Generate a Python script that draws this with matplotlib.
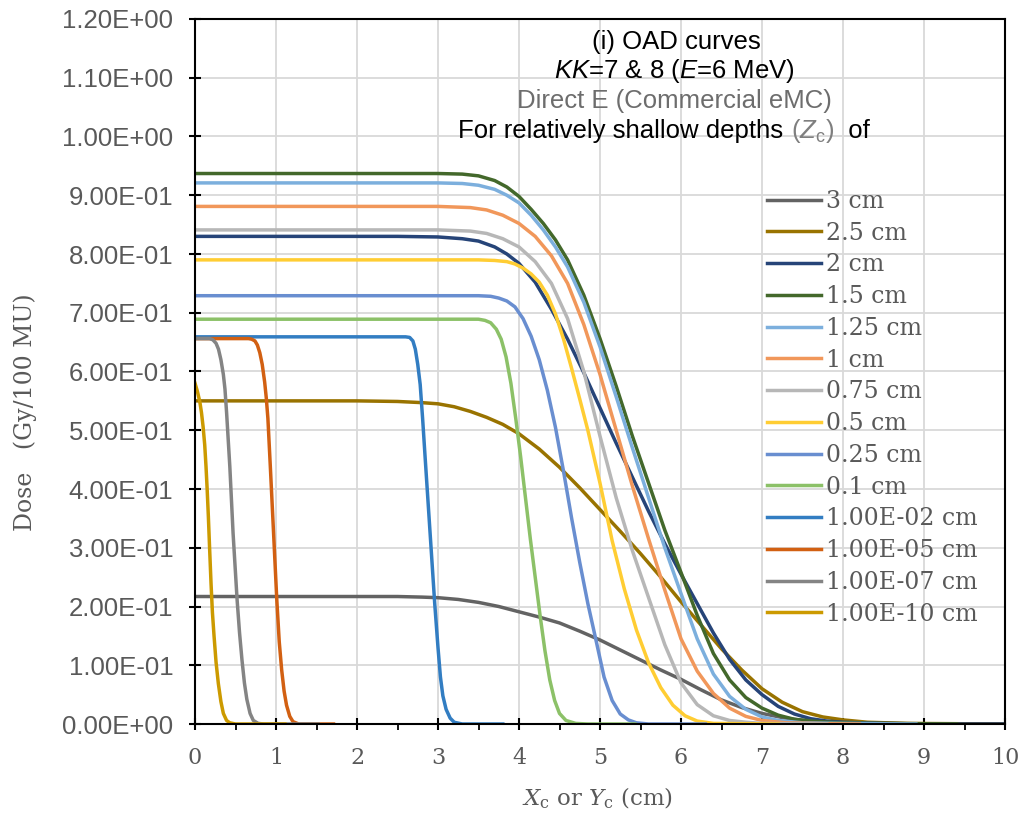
import matplotlib
matplotlib.use('Agg')
import matplotlib.pyplot as plt
import numpy as np

plt.rcParams['mathtext.fontset'] = 'custom'
plt.rcParams['mathtext.rm'] = 'Liberation Sans'
plt.rcParams['mathtext.it'] = 'Liberation Sans:italic'

# depth labels (legend order) and line colours
depth_labels = ['3 cm', '2.5 cm', '2 cm', '1.5 cm', '1.25 cm', '1 cm', '0.75 cm',
                '0.5 cm', '0.25 cm', '0.1 cm', '1.00E-02 cm', '1.00E-05 cm',
                '1.00E-07 cm', '1.00E-10 cm']
line_colors = ['#636363', '#997300', '#264478', '#43682B', '#7CAFDD', '#F1975A', '#B7B7B7',
               '#FFCD33', '#698ED0', '#8CC168', '#327DC2', '#D26012', '#848484', '#CC9A00']

# OAD curves (x in cm, dose in Gy/100 MU)
x_3cm = [0, 2.5, 2.8, 3.0, 3.25, 3.5, 3.75, 4.0, 4.25, 4.5, 4.75, 5.0, 5.25, 5.5, 5.75,
         6.0, 6.25, 6.5, 6.75, 7.0, 7.25, 7.5, 7.8, 8.3, 9.0, 10]
d_3cm = [0.217, 0.217, 0.216, 0.215, 0.212, 0.207, 0.2, 0.191, 0.182, 0.172, 0.158, 0.143,
         0.126, 0.109, 0.092, 0.076, 0.058, 0.041, 0.028, 0.018, 0.011, 0.006, 0.003,
         0.001, 0, 0]

x_25cm = [0, 2.0, 2.5, 2.8, 3.0, 3.2, 3.4, 3.6, 3.8, 4.0, 4.25, 4.5, 4.75, 5.0, 5.25,
          5.5, 5.75, 6.0, 6.25, 6.5, 6.75, 7.0, 7.25, 7.5, 7.75, 8.0, 8.3, 8.8, 10]
d_25cm = [0.55, 0.55, 0.549, 0.547, 0.545, 0.54, 0.532, 0.522, 0.51, 0.494, 0.468, 0.437,
          0.402, 0.365, 0.328, 0.29, 0.25, 0.208, 0.168, 0.128, 0.092, 0.06, 0.037, 0.021,
          0.012, 0.007, 0.003, 0.001, 0]

x_2cm = [0, 2.5, 3.0, 3.3, 3.5, 3.7, 3.85, 4.0, 4.2, 4.4, 4.6, 4.8, 5.0, 5.2, 5.4, 5.6,
         5.8, 6.0, 6.2, 6.4, 6.6, 6.8, 7.0, 7.2, 7.4, 7.6, 7.8, 8.0, 8.5, 9.0, 10]
d_2cm = [0.83, 0.83, 0.829, 0.826, 0.822, 0.812, 0.8, 0.784, 0.752, 0.706, 0.655, 0.598,
         0.538, 0.478, 0.42, 0.362, 0.307, 0.255, 0.205, 0.155, 0.11, 0.075, 0.05, 0.03,
         0.017, 0.009, 0.005, 0.003, 0.001, 0, 0]

x_15cm = [0, 3.0, 3.3, 3.5, 3.7, 3.85, 4.0, 4.15, 4.3, 4.45, 4.6, 4.8, 5.0, 5.2, 5.4,
          5.6, 5.8, 6.0, 6.2, 6.4, 6.6, 6.8, 7.0, 7.2, 7.4, 7.7, 8.0, 8.5, 9.4]
d_15cm = [0.937, 0.937, 0.936, 0.933, 0.925, 0.914, 0.898, 0.876, 0.852, 0.824, 0.79,
          0.73, 0.656, 0.575, 0.49, 0.41, 0.33, 0.258, 0.185, 0.12, 0.075, 0.045, 0.027,
          0.015, 0.008, 0.004, 0.002, 0.001, 0]

x_125cm = [0, 3.0, 3.3, 3.5, 3.7, 3.85, 4.0, 4.15, 4.3, 4.45, 4.6, 4.8, 5.0, 5.2, 5.4,
           5.6, 5.8, 6.0, 6.2, 6.4, 6.6, 6.8, 7.0, 7.2, 7.5, 8.0, 8.9]
d_125cm = [0.921, 0.921, 0.92, 0.917, 0.91, 0.9, 0.887, 0.866, 0.841, 0.812, 0.778, 0.718,
           0.642, 0.557, 0.47, 0.385, 0.3, 0.222, 0.145, 0.085, 0.047, 0.025, 0.012,
           0.006, 0.002, 0.001, 0]

x_1cm = [0, 3.0, 3.4, 3.6, 3.8, 4.0, 4.2, 4.4, 4.6, 4.8, 5.0, 5.2, 5.4, 5.6, 5.8, 6.0,
         6.2, 6.4, 6.6, 6.8, 7.0, 7.3, 7.8, 8.2]
d_1cm = [0.881, 0.881, 0.879, 0.875, 0.866, 0.852, 0.83, 0.797, 0.75, 0.68, 0.595, 0.5,
         0.405, 0.315, 0.228, 0.145, 0.09, 0.052, 0.027, 0.013, 0.006, 0.002, 0.0005, 0]

x_075cm = [0, 3.0, 3.4, 3.6, 3.8, 4.0, 4.2, 4.4, 4.6, 4.8, 5.0, 5.2, 5.4, 5.6, 5.8, 6.0,
           6.2, 6.4, 6.6, 6.8, 7.0, 7.8]
d_075cm = [0.841, 0.841, 0.839, 0.835, 0.826, 0.812, 0.787, 0.75, 0.69, 0.6, 0.49, 0.385,
           0.295, 0.215, 0.135, 0.07, 0.033, 0.014, 0.006, 0.003, 0.001, 0]

x_05cm = [0, 3.5, 3.7, 3.85, 3.95, 4.05, 4.15, 4.25, 4.35, 4.45, 4.55, 4.65, 4.75, 4.85,
          5.0, 5.15, 5.3, 5.45, 5.6, 5.75, 5.9, 6.05, 6.2, 6.4, 7.2]
d_05cm = [0.79, 0.79, 0.789, 0.787, 0.783, 0.776, 0.766, 0.752, 0.73, 0.698, 0.655, 0.605,
          0.553, 0.5, 0.41, 0.312, 0.23, 0.16, 0.104, 0.062, 0.032, 0.014, 0.005, 0.001, 0]

x_025cm = [0, 3.5, 3.65, 3.75, 3.85, 3.95, 4.05, 4.15, 4.25, 4.35, 4.45, 4.55, 4.65,
           4.75, 4.85, 4.95, 5.05, 5.15, 5.25, 5.35, 5.45, 5.6, 6.3]
d_025cm = [0.729, 0.729, 0.728, 0.725, 0.72, 0.71, 0.69, 0.66, 0.62, 0.568, 0.505, 0.43,
           0.35, 0.275, 0.205, 0.143, 0.08, 0.04, 0.017, 0.007, 0.002, 0, 0]

x_01cm = [0, 3.4, 3.5, 3.58, 3.65, 3.72, 3.78, 3.84, 3.9, 3.96, 4.02, 4.08, 4.14, 4.2,
          4.26, 4.32, 4.38, 4.44, 4.5, 4.58, 4.7, 4.85, 5.43]
d_01cm = [0.689, 0.689, 0.689, 0.687, 0.683, 0.672, 0.655, 0.625, 0.58, 0.52, 0.455, 0.385,
          0.315, 0.25, 0.185, 0.125, 0.075, 0.04, 0.018, 0.006, 0.001, 0, 0]

x_1em2 = [0, 2.6, 2.65, 2.69, 2.72, 2.75, 2.78, 2.81, 2.84, 2.9, 2.96, 3.0, 3.03, 3.06,
          3.1, 3.15, 3.2, 3.3, 3.8]
d_1em2 = [0.659, 0.659, 0.658, 0.652, 0.638, 0.612, 0.578, 0.52, 0.456, 0.33, 0.204, 0.13,
          0.08, 0.048, 0.025, 0.01, 0.003, 0, 0]

x_1em5 = [0, 0.66, 0.7, 0.74, 0.77, 0.8, 0.83, 0.86, 0.88, 0.9, 0.93, 0.97, 1.01, 1.04,
          1.07, 1.1, 1.13, 1.17, 1.21, 1.28, 1.71]
d_1em5 = [0.656, 0.656, 0.655, 0.652, 0.645, 0.632, 0.612, 0.582, 0.555, 0.52, 0.438,
          0.325, 0.211, 0.14, 0.092, 0.056, 0.032, 0.013, 0.004, 0, 0]

x_1em7 = [0, 0.18, 0.22, 0.26, 0.29, 0.32, 0.35, 0.37, 0.39, 0.43, 0.47, 0.52, 0.55,
          0.58, 0.61, 0.64, 0.68, 0.72, 0.78, 0.85, 1.52]
d_1em7 = [0.656, 0.656, 0.654, 0.648, 0.638, 0.62, 0.595, 0.57, 0.53, 0.438, 0.325, 0.211,
          0.155, 0.109, 0.07, 0.042, 0.018, 0.006, 0.001, 0, 0]

x_1em10 = [0, 0.03, 0.06, 0.08, 0.1, 0.12, 0.136, 0.15, 0.165, 0.18, 0.198, 0.215, 0.235,
           0.26, 0.288, 0.32, 0.35, 0.39, 0.43, 0.5, 1.11]
d_1em10 = [0.58, 0.566, 0.548, 0.53, 0.506, 0.475, 0.438, 0.4, 0.353, 0.3, 0.239, 0.19,
           0.15, 0.105, 0.069, 0.038, 0.018, 0.006, 0.002, 0, 0]

curves = [(x_3cm, d_3cm), (x_25cm, d_25cm), (x_2cm, d_2cm), (x_15cm, d_15cm),
          (x_125cm, d_125cm), (x_1cm, d_1cm), (x_075cm, d_075cm), (x_05cm, d_05cm),
          (x_025cm, d_025cm), (x_01cm, d_01cm), (x_1em2, d_1em2), (x_1em5, d_1em5),
          (x_1em7, d_1em7), (x_1em10, d_1em10)]

W, H = 1024, 821
grey_txt = '#595959'

fig = plt.figure(figsize=(W / 100, H / 100), dpi=100)
ax = fig.add_axes([195 / W, (H - 724) / H, 810 / W, 705 / H])

for (xs, ds), lab, col in zip(curves, depth_labels, line_colors):
    ax.plot(xs, ds, color=col, lw=2.5, label=lab, solid_joinstyle='round')

ax.set_xlim(0, 10)
ax.set_ylim(0, 1.2)
ax.set_xticks(range(11))
ax.set_xticks(np.arange(0.5, 10, 1), minor=True)
ax.set_yticks(np.arange(0, 1.201, 0.1))
ax.yaxis.set_major_formatter(lambda v, p: f'{v:.2E}')
ax.grid(True, which='major', color='#d9d9d9', lw=1.3)
ax.set_axisbelow(True)
for s in ax.spines.values():
    s.set_linewidth(1.5)
    s.set_color('black')

ax.tick_params(which='major', direction='inout', length=9, width=1.5, color='black',
               labelcolor=grey_txt)
ax.tick_params(axis='x', which='minor', direction='out', length=4.5, width=1.3)
ax.tick_params(axis='y', labelsize=18.5, pad=11)
ax.tick_params(axis='x', labelsize=16, pad=12)
for t in ax.get_yticklabels():
    t.set_fontfamily('Liberation Sans')
for t in ax.get_xticklabels():
    t.set_fontfamily('DejaVu Serif')

ax.legend(loc='upper left', bbox_to_anchor=(767 / W, 1 - 190 / H),
          bbox_transform=fig.transFigure, frameon=False,
          prop={'family': 'DejaVu Serif', 'size': 17}, labelcolor=grey_txt,
          handlelength=2.3, handletextpad=0.22, labelspacing=0.37,
          borderpad=0, borderaxespad=0)

# title block inside the plot
title_kw = dict(family='Liberation Sans', size=18.5, ha='center', va='center')
fig.text(676 / W, 1 - 42 / H, '(i) OAD curves', color='black', **title_kw)
fig.text(674 / W, 1 - 71 / H, r'$\mathit{KK}$=7 & 8 ($\mathit{E}$=6 MeV)',
         color='black', **title_kw)
fig.text(674 / W, 1 - 101 / H, 'Direct E (Commercial eMC)', color='#6d6d6d', **title_kw)

# last title line has a grey part, so lay it out piece by piece
pieces = [('For relatively shallow depths ', 'black'),
          (r'($\mathit{Z}_\mathrm{c}$)', '#7f7f7f'),
          ('  of', 'black')]
renderer = fig.canvas.get_renderer()
texts = []
for s, c in pieces:
    t = fig.text(0, 1 - 131 / H, s, color=c, family='Liberation Sans', size=18.5,
                 ha='left', va='center')
    texts.append(t)
widths = [t.get_window_extent(renderer).width for t in texts]
x0 = 664 - sum(widths) / 2
for t, w in zip(texts, widths):
    t.set_x(x0 / W)
    x0 += w

fig.text(25 / W, 1 - 412 / H, 'Dose   (Gy/100 MU)', rotation=90, ha='center',
         va='center', family='DejaVu Serif', size=17, color=grey_txt)
fig.text(598 / W, 1 - 798 / H, r'$X_\mathrm{c}$ or $Y_\mathrm{c}$ (cm)', ha='center',
         va='center', family='DejaVu Serif', math_fontfamily='dejavuserif', size=16.5,
         color=grey_txt)

fig.savefig('out.png', dpi=100)
